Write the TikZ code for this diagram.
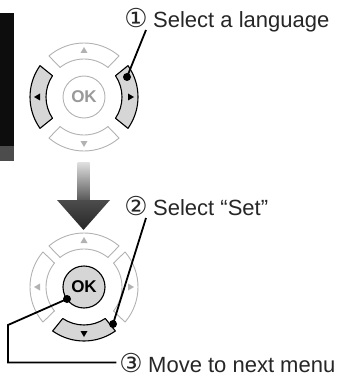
\documentclass[tikz,border=0pt]{standalone}
\usepackage{fontspec}
\setmainfont{Liberation Sans}
\newfontfamily\circfont{DejaVu Sans}
\usetikzlibrary{positioning}
\definecolor{segfill}{gray}{0.84}
\definecolor{segline}{gray}{0.7}
\definecolor{okgray}{gray}{0.6}

\begin{document}
\begin{tikzpicture}[x=1pt, y=-1pt,
    seg/.style={draw=segline, fill=white, line width=0.9pt, line join=round},
    seghl/.style={draw=black, fill=segfill, line width=1.1pt, line join=round},
    okoff/.style={circle, draw=segline, fill=white, line width=0.9pt, minimum size=42pt, inner sep=0pt, text=okgray, font=\fontsize{17}{17}\selectfont\bfseries},
    okon/.style={okoff, draw=black, fill=segfill, text=black, line width=1.1pt},
    lbl/.style={anchor=base west, inner sep=0pt, font=\fontsize{22}{24}\selectfont, text=black!85},
    num/.style={anchor=base east, inner sep=0pt, font=\circfont\fontsize{26}{26}\selectfont, text=black!85},
    leader/.style={line width=1.8pt},
    dot/.style={circle, fill=black, inner sep=0pt, minimum size=8pt}]
  \useasboundingbox (0,0) rectangle (344,377);

  % screen edge
  \fill[black!95] (0,13) rectangle (14,146);
  \fill[black!70] (0,146) rectangle (14,161);

  % upper dial, left and right pressed
  \begin{scope}[shift={(84,97)}]
    \foreach \a in {90,270} {
      \draw[seg] (\a-40.5:54) arc[start angle=\a-40.5, end angle=\a+40.5, radius=54]
        -- (\a+39:38) arc[start angle=\a+39, end angle=\a-39, radius=38] -- cycle;
      \fill[segline, rotate=-\a] (50,0) -- (44,-3.5) -- (44,3.5) -- cycle;
    }
    \foreach \a in {0,180} {
      \draw[seghl] (\a-35.5:54) arc[start angle=\a-35.5, end angle=\a+35.5, radius=54]
        -- (\a+34:38) arc[start angle=\a+34, end angle=\a-34, radius=38] -- cycle;
      \fill[black, rotate=-\a] (50,0) -- (44,-3.5) -- (44,3.5) -- cycle;
    }
  \end{scope}
  \node[okoff] (ok1) at (84,97) {OK};

  % arrow between the dials
  \shade[top color=black!12, bottom color=black!65] (77.5,162) rectangle (89.5,200);
  \shade[top color=black!70, bottom color=black!85] (57,200) -- (110,200) -- (83.5,230) -- cycle;

  % lower dial, bottom pressed
  \begin{scope}[shift={(84,287)}]
    \foreach \a in {0,180,270} {
      \draw[seg] (\a-40.5:54) arc[start angle=\a-40.5, end angle=\a+40.5, radius=54]
        -- (\a+39:38) arc[start angle=\a+39, end angle=\a-39, radius=38] -- cycle;
      \fill[segline, rotate=-\a] (50,0) -- (44,-3.5) -- (44,3.5) -- cycle;
    }
    \draw[seghl] (54.5:54) arc[start angle=54.5, end angle=125.5, radius=54]
      -- (124:38) arc[start angle=124, end angle=56, radius=38] -- cycle;
    \fill[black, rotate=-90] (50,0) -- (44,-3.5) -- (44,3.5) -- cycle;
  \end{scope}
  \node[okon] (ok2) at (84,287) {OK};

  % labels
  \node[lbl] (t1) at (153,28) {Select a language};
  \node[num] (c1) at ([xshift=-5pt]t1.base west) {①};
  \node[lbl] (t2) at (153,215) {Select “Set”};
  \node[num] (c2) at ([xshift=-5pt]t2.base west) {②};
  \node[lbl] (t3) at (148,372) {Move to next menu};
  \node[num] (c3) at ([xshift=-5pt]t3.base west) {③};

  % leaders
  \node[dot] (d1) at (127,77) {};
  \node[dot] (d2) at (113,324) {};
  \node[dot] (d3) at (67,299) {};
  \coordinate (l1) at (146,30);
  \coordinate (l2) at (146,218);
  \coordinate (k1) at (8,325);
  \draw[leader] (l1) -- (d1.center);
  \draw[leader] (l2) -- (d2.center);
  \draw[leader, shorten >=3pt] (d3.center) -- (k1) |- (c3.west);
\end{tikzpicture}
\end{document}
